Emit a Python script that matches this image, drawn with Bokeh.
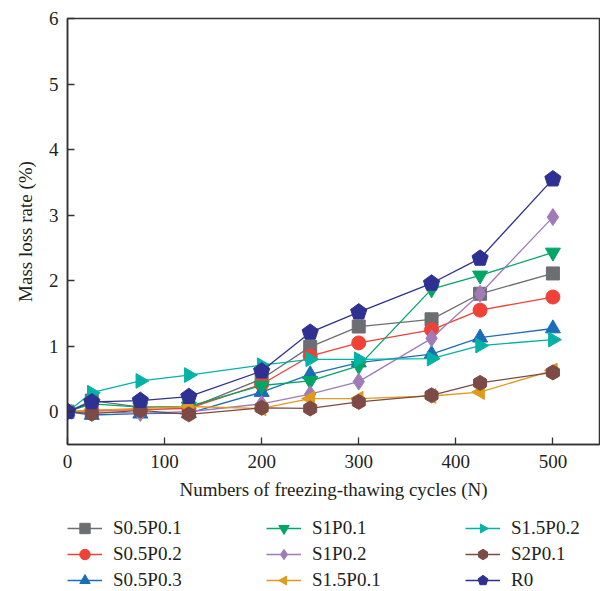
import math
from bokeh.plotting import figure
from bokeh.layouts import column
from bokeh.models import Legend, LegendItem, Range1d, FixedTicker
from bokeh.embed import file_html
from bokeh.resources import INLINE

cycles = [0, 25, 75, 125, 200, 250, 300, 375, 425, 500]

s05p01 = [0, 0.17, 0.07, 0.05, 0.50, 0.99, 1.30, 1.41, 1.80, 2.11]
s05p02 = [0, 0.02, 0.03, 0.05, 0.42, 0.85, 1.05, 1.25, 1.55, 1.75]
s05p03 = [0, -0.05, -0.03, -0.02, 0.30, 0.57, 0.75, 0.88, 1.13, 1.27]
s1p01 = [0, 0.12, 0.07, 0.08, 0.40, 0.47, 0.70, 1.87, 2.08, 2.43]
s1p02 = [0, 0.0, -0.02, 0.0, 0.12, 0.27, 0.46, 1.12, 1.80, 2.97]
s15p01 = [0, 0.02, 0.05, 0.08, 0.05, 0.20, 0.20, 0.24, 0.30, 0.63]
s15p02 = [0, 0.29, 0.47, 0.56, 0.71, 0.80, 0.80, 0.81, 1.01, 1.10]
s2p01 = [0, -0.03, 0.02, -0.04, 0.06, 0.05, 0.15, 0.25, 0.44, 0.60]
r0 = [0, 0.15, 0.17, 0.23, 0.62, 1.21, 1.52, 1.96, 2.34, 3.55]

names = ["S0.5P0.1", "S0.5P0.2", "S0.5P0.3", "S1P0.1", "S1P0.2",
         "S1.5P0.1", "S1.5P0.2", "S2P0.1", "R0"]
series = [s05p01, s05p02, s05p03, s1p01, s1p02, s15p01, s15p02, s2p01, r0]
colors = ["#6d6e71", "#ef4136", "#1b6db7", "#00a665", "#a07bb8",
          "#e09b1f", "#00b3a6", "#7d4a46", "#2e3192"]
# marker: (kind, name-or-sides, angle)
markers = [("scatter", "square", 0), ("scatter", "circle", 0),
           ("scatter", "triangle", 0), ("scatter", "inverted_triangle", 0),
           ("scatter", "diamond", 0), ("ngon", 3, math.pi / 2),
           ("ngon", 3, -math.pi / 2), ("ngon", 6, 0), ("ngon", 5, 0)]
sizes = [13, 14, 15, 15, 17, 17, 17, 15, 17]

FONT = "Liberation Serif"


def draw(fig, ys, c, mk_spec, s):
    kind, shape, ang = mk_spec
    ln = fig.line(cycles, ys, line_color=c, line_width=1.3)
    if kind == "ngon":
        mk = fig.ngon(cycles, ys, radius=s / 2, radius_units="screen", n=shape,
                      angle=ang, fill_color=c, line_color=c)
    else:
        mk = fig.scatter(cycles, ys, marker=shape, size=s,
                         fill_color=c, line_color=c)
    return ln, mk


p = figure(frame_width=532, frame_height=426, output_backend="svg",
           toolbar_location=None,
           x_range=Range1d(0, 548), y_range=Range1d(-0.5, 6))
p.min_border_left = 67
p.min_border_right = 1
p.min_border_top = 18
p.min_border_bottom = 70
p.grid.visible = False
p.outline_line_color = "#333333"
p.outline_line_width = 1.5
p.background_fill_color = "white"
p.border_fill_color = "white"

for ys, c, m, s in zip(series, colors, markers, sizes):
    draw(p, ys, c, m, s)

for ax in (p.xaxis[0], p.yaxis[0]):
    ax.axis_line_color = "#333333"
    ax.axis_line_width = 1.5
    ax.major_tick_line_color = "#333333"
    ax.major_tick_line_width = 1.3
    ax.major_tick_in = 7
    ax.major_tick_out = 0
    ax.minor_tick_line_color = None
    ax.major_label_text_font = FONT
    ax.major_label_text_font_size = "19px"
    ax.major_label_text_color = "#231f20"
    ax.axis_label_text_font = FONT
    ax.axis_label_text_font_size = "19px"
    ax.axis_label_text_font_style = "normal"
    ax.axis_label_text_color = "#231f20"

p.xaxis.ticker = FixedTicker(ticks=[0, 100, 200, 300, 400, 500])
p.yaxis.ticker = FixedTicker(ticks=[0, 1, 2, 3, 4, 5, 6])
p.xaxis.axis_label = "Numbers of freezing-thawing cycles (N)"
p.yaxis.axis_label = "Mass loss rate (%)"
p.xaxis.major_label_standoff = 10
p.xaxis.axis_label_standoff = 8
p.yaxis.major_label_standoff = 9
p.yaxis.axis_label_standoff = 10

# legend panel: a second figure whose ranges hide its own copies of the series
lf = figure(width=600, height=77, output_backend="svg", toolbar_location=None,
            x_range=Range1d(1000, 2000), y_range=Range1d(1000, 2000))
lf.axis.visible = False
lf.grid.visible = False
lf.outline_line_color = None
lf.min_border = 0
lf.min_border_left = 0
lf.min_border_right = 0
lf.min_border_top = 0
lf.min_border_bottom = 0

items = []
for name, ys, c, m in zip(names, series, colors, markers):
    ln, mk = draw(lf, ys, c, m, 12)
    items.append(LegendItem(label=name, renderers=[ln, mk]))

legend = Legend(items=items, ncols=3, location=(0, -2),
                label_text_font=FONT, label_text_font_size="19px",
                label_text_color="#231f20",
                glyph_width=35, glyph_height=26, label_height=26,
                label_width=153, label_standoff=11, spacing=0,
                padding=0, margin=0, border_line_color=None,
                background_fill_alpha=0)
lf.add_layout(legend, "center")

layout = column(p, lf, spacing=0)
open("out.html", "w").write(file_html(layout, INLINE))
